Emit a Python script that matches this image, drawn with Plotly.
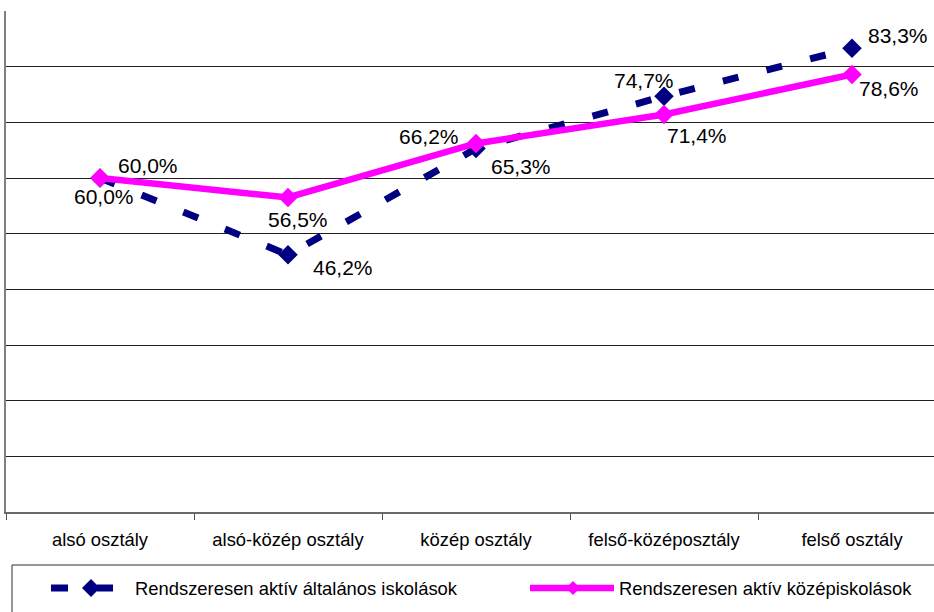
import plotly.graph_objects as go

# Social class categories and share of regularly active students (%)
categories = ["alsó osztály", "alsó-közép osztály", "közép osztály",
              "felső-középosztály", "felső osztály"]
altalanos = [60.0, 46.2, 65.3, 74.7, 83.3]   # primary school pupils
kozepiskola = [60.0, 56.5, 66.2, 71.4, 78.6]  # secondary school pupils
series_names = ["Rendszeresen aktív általános iskolások",
                "Rendszeresen aktív középiskolások"]

NAVY = "#000080"
MAGENTA = "#FF00FF"
FONT = "Arial, Liberation Sans, sans-serif"

W, H = 934, 612
L, T, B = 6, 11, 100
PLOT_W = W - L
PLOT_H = H - T - B
CAT_STEP = 188  # pixel width of one category slot


def px(x):
    return (x - L) / PLOT_W


def py(y):
    return (H - B - y) / PLOT_H


def pct(v):
    return f"{v:.1f}".replace(".", ",") + "%"


fig = go.Figure()
fig.add_trace(go.Scatter(
    x=categories, y=altalanos, mode="lines+markers", name=series_names[0],
    line=dict(color=NAVY, width=7, dash="16px,29px"),
    marker=dict(symbol="diamond", size=15, color=NAVY, line=dict(width=0)),
    showlegend=False))
fig.add_trace(go.Scatter(
    x=categories, y=kozepiskola, mode="lines+markers", name=series_names[1],
    line=dict(color=MAGENTA, width=6.5),
    marker=dict(symbol="diamond", size=15, color=MAGENTA, line=dict(width=0)),
    showlegend=False))

# value labels, offset (dx, dy) in pixels from each point
offs_alt = [(4, 18), (55, 13), (45, 18), (-20, -16), (46, -13)]
offs_koz = [(48, -13), (10, 22), (-47, -7), (33, 21), (37, 14)]
annotations = []
for vals, offs in ((altalanos, offs_alt), (kozepiskola, offs_koz)):
    for c, v, (dx, dy) in zip(categories, vals, offs):
        annotations.append(dict(
            x=c, y=v, xref="x", yref="y", text=pct(v), showarrow=False,
            xshift=dx, yshift=-dy, xanchor="center", yanchor="middle",
            font=dict(family=FONT, size=21, color="#000000")))

# legend drawn as a framed strip below the axis
shapes = [dict(type="rect", xref="paper", yref="paper",
               x0=px(12), x1=px(945), y0=py(565), y1=py(625),
               line=dict(color="#303030", width=1), fillcolor="rgba(0,0,0,0)")]
LEG_Y = 588


def diamond(cx, cy, r, color):
    return dict(type="path", xref="paper", yref="paper",
                path=(f"M {px(cx - r)},{py(cy)} L {px(cx)},{py(cy - r)} "
                      f"L {px(cx + r)},{py(cy)} L {px(cx)},{py(cy + r)} Z"),
                fillcolor=color, line=dict(width=0))


for x0, x1 in ((51, 68), (97, 113)):
    shapes.append(dict(type="line", xref="paper", yref="paper",
                       x0=px(x0), x1=px(x1), y0=py(LEG_Y), y1=py(LEG_Y),
                       line=dict(color=NAVY, width=7)))
shapes.append(diamond(91, LEG_Y, 9, NAVY))
shapes.append(dict(type="line", xref="paper", yref="paper",
                   x0=px(530), x1=px(614), y0=py(LEG_Y), y1=py(LEG_Y),
                   line=dict(color=MAGENTA, width=6.5)))
shapes.append(diamond(573, LEG_Y, 7, MAGENTA))

annotations.append(dict(x=px(133), y=py(LEG_Y), xref="paper", yref="paper",
                        text=series_names[0], showarrow=False,
                        xanchor="left", yanchor="middle",
                        font=dict(family=FONT, size=18.4, color="#000000")))
annotations.append(dict(x=px(617), y=py(LEG_Y), xref="paper", yref="paper",
                        text=series_names[1], showarrow=False,
                        xanchor="left", yanchor="middle",
                        font=dict(family=FONT, size=18.4, color="#000000")))

fig.update_layout(
    width=W, height=H,
    margin=dict(l=L, r=0, t=T, b=B, autoexpand=False),
    paper_bgcolor="white", plot_bgcolor="white",
    showlegend=False,
    annotations=annotations, shapes=shapes,
    xaxis=dict(type="category", range=[-0.5, -0.5 + PLOT_W / CAT_STEP],
               tickson="boundaries", ticks="outside", ticklen=6,
               tickcolor="#505050", tickwidth=1,
               ticklabelstandoff=10,
               showline=True, linecolor="#6a6a6a", linewidth=2,
               showgrid=False, zeroline=False,
               tickfont=dict(family=FONT, size=18.4, color="#000000")),
    yaxis=dict(range=[0, 90], dtick=10, showgrid=True,
               gridcolor="#202020", gridwidth=1,
               showticklabels=False, ticks="",
               showline=True, linecolor="#808080", linewidth=2,
               zeroline=False),
)

fig.write_html("out.html")
